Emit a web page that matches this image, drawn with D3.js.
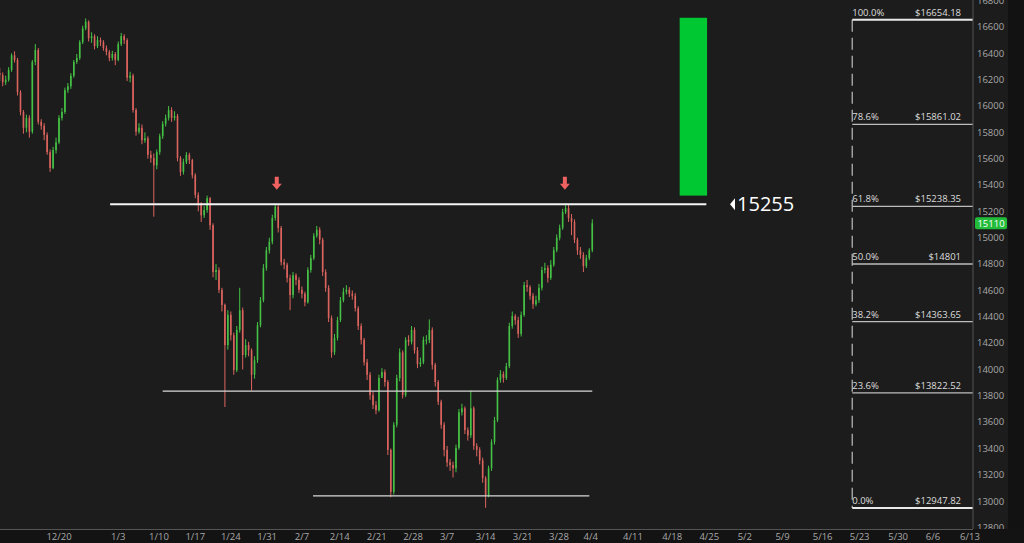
<!DOCTYPE html>
<html><head><meta charset="utf-8">
<script src="https://cdn.jsdelivr.net/npm/d3@7/dist/d3.min.js"></script>
<style>html,body{margin:0;padding:0;background:#1c1c1c;overflow:hidden}svg{display:block}</style>
</head><body><svg id="c" width="1024" height="543"></svg>
<script>
// ---- data ----
const barStartDay = -8, barStep = 0.4, firstOpen = 16250;
const closes = [16235,16180,16200,16275,16385,16350,16105,15955,15835,15910,
15805,16335,16425,15880,15850,15780,15650,15530,15665,15725,
15910,15955,16120,16150,16230,16335,16365,16485,16590,16640,
16515,16530,16455,16500,16485,16440,16410,16365,16395,16350,
16470,16530,16500,16215,16230,15970,15805,15835,15740,15755,
15630,15605,15550,15650,15770,15865,15910,15970,15910,15925,
15605,15500,15575,15630,15590,15475,15325,15250,15170,15210,
15300,15095,14740,14755,14605,14490,14185,14415,14260,13995,
14300,14450,14110,14185,14145,13960,14070,14335,14525,14770,
14905,14970,15150,15235,15075,14815,14795,14695,14565,14715,
14680,14605,14575,14510,14755,14845,15015,15060,14985,14740,
14620,14390,14130,14240,14375,14525,14590,14605,14575,14560,
14465,14330,14225,14055,13960,13805,13730,13690,13935,13980,
13905,13390,13070,13580,13935,14130,13805,14225,14210,14300,
14145,14040,14055,14225,14225,14300,14035,13905,13755,13580,
13390,13295,13275,13250,13405,13675,13705,13540,13500,13705,
13420,13390,13310,13175,13045,13250,13450,13615,13920,13965,
13935,14025,14330,14405,14375,14270,14415,14640,14625,14560,
14495,14525,14620,14755,14770,14695,14795,14905,15000,15075,
15195,15225,15150,15120,14985,14905,14870,14785,14845,14905,
15110];
const highs = [16290,16255,16230,16295,16400,16415,16365,16120,15970,15935,
15930,16350,16470,16440,15900,15870,15800,15670,15690,15760,
15930,15985,16140,16175,16250,16350,16395,16500,16610,16665,
16650,16560,16545,16530,16520,16500,16460,16425,16420,16410,
16490,16555,16545,16515,16260,16245,15985,15870,15860,15800,
15770,15660,15640,15670,15790,15885,15935,16000,15990,15960,
15940,15620,15600,15650,15645,15600,15490,15345,15270,15240,
15320,15310,15110,14800,14775,14620,14500,14450,14440,14280,
14330,14620,14470,14230,14210,14160,14100,14360,14550,14800,
14930,15000,15175,15260,15250,15090,14840,14810,14720,14740,
14730,14700,14630,14590,14775,14870,15035,15090,15080,15000,
14760,14640,14410,14270,14400,14550,14620,14640,14625,14600,
14580,14480,14350,14240,14080,13980,13830,13760,13960,14010,
14000,13920,13400,13600,13960,14160,14145,14245,14260,14330,
14320,14170,14090,14250,14260,14380,14320,14050,13920,13770,
13600,13420,13320,13300,13430,13700,13740,13720,13560,13840,
13720,13440,13410,13330,13190,13270,13470,13640,13940,13995,
13985,14050,14355,14440,14420,14400,14440,14665,14680,14640,
14580,14560,14650,14780,14810,14790,14830,14930,15025,15100,
15220,15260,15250,15180,15140,15000,14930,14890,14870,14920,
15140];
const lows = [16190,16150,16160,16185,16260,16330,16080,15930,15790,15800,
15760,15790,16310,15860,15820,15740,15630,15500,15520,15640,
15710,15890,15940,16100,16130,16215,16320,16350,16470,16575,
16490,16480,16430,16440,16455,16420,16385,16340,16345,16310,
16340,16455,16470,16190,16180,15950,15775,15790,15710,15720,
15600,15570,15160,15520,15630,15750,15845,15890,15880,15890,
15580,15470,15480,15560,15560,15450,15300,15200,15120,15150,
15190,15060,14700,14680,14580,14440,13715,14150,14220,13960,
13980,14280,14000,14090,14100,13840,13930,14050,14320,14510,
14750,14880,14950,15130,15040,14790,14760,14660,14450,14540,
14640,14580,14540,14480,14500,14735,14830,15000,14950,14710,
14590,14360,14090,14110,14220,14360,14510,14570,14550,14530,
14440,14300,14190,14030,13920,13770,13700,13660,13680,13950,
13870,13350,13030,13050,13560,13910,13780,13790,14180,14190,
14120,14010,14020,14040,14190,14200,14000,13870,13730,13550,
13340,13260,13230,13180,13220,13390,13650,13510,13460,13480,
13390,13340,13280,13140,12950,13030,13230,13430,13600,13900,
13900,13920,14010,14310,14340,14240,14250,14400,14590,14530,
14460,14480,14505,14600,14730,14660,14680,14780,14890,14980,
15060,15180,15120,15020,14960,14870,14840,14740,14770,14830,
14890];

const yTicks = [12800,13000,13200,13400,13600,13800,14000,14200,14400,14600,14800,15000,15200,15400,15600,15800,16000,16200,16400,16600,16800];
const xTickLabels = ["12/20","1/3","1/10","1/17","1/24","1/31","2/7","2/14","2/21","2/28","3/7","3/14","3/21","3/28","4/4","4/11","4/18","4/25","5/2","5/9","5/16","5/23","5/30","6/6","6/13"];
const xTickDays = [0,8,13.5,18.4,23.2,28.1,32.8,37.9,42.9,47.8,52.4,57.6,62.6,67.5,71.8,77.5,82.8,87.8,92.6,97.7,103.1,108.1,113.3,118,123];

const fibPcts = ["100.0%","78.6%","61.8%","50.0%","38.2%","23.6%","0.0%"];
const fibPrices = [16654.18,15861.02,15238.35,14801,14363.65,13822.52,12947.82];
const fibTexts = ["$16654.18","$15861.02","$15238.35","$14801","$14363.65","$13822.52","$12947.82"];
const fibStartDay = 107.1;

const resistance = {price:15255, fromDay:6.9, toDay:87.4, labelDay:90.6, label:"15255"};
const supports = [{price:13836, fromDay:14.0, toDay:72.0},{price:13040, fromDay:34.3, toDay:71.6}];
const targetBox = {fromDay:83.8, toDay:87.5, low:15320, high:16670};
const arrows = [{day:29.4, price:15365},{day:68.3, price:15365}];
const lastPrice = 15110;

// ---- layout ----
const W = 1024, H = 543, plotRight = 973, plotBottom = 529, axisStrip = 1008;
const svg = d3.select("#c");
const x = d3.scaleLinear().domain([0,123]).range([59,970]);
const y = d3.scaleLinear().domain([13000,16600]).range([501.2,27]);
const font = "'Open Sans', 'Noto Sans', sans-serif";

svg.append("rect").attr("width",W).attr("height",H).attr("fill","#1c1c1c");

const defs = svg.append("defs");
defs.append("clipPath").attr("id","plotclip").append("rect").attr("x",0).attr("y",0).attr("width",plotRight).attr("height",plotBottom);

// candles
const bars = closes.map((c,i)=>({day:barStartDay+i*barStep, o: i===0?firstOpen:closes[i-1], c, h:highs[i], l:lows[i]}));
const up = "#45c245", dn = "#dc645e";
const g = svg.append("g").attr("clip-path","url(#plotclip)");
g.selectAll("line.w").data(bars).join("line")
  .attr("x1",d=>x(d.day)).attr("x2",d=>x(d.day))
  .attr("y1",d=>y(d.h)).attr("y2",d=>y(d.l))
  .attr("stroke",d=>d.c>=d.o?up:dn).attr("stroke-width",1);
g.selectAll("rect.b").data(bars).join("rect")
  .attr("x",d=>x(d.day)-0.8).attr("width",1.6)
  .attr("y",d=>y(Math.max(d.o,d.c))).attr("height",d=>Math.max(1,Math.abs(y(d.o)-y(d.c))))
  .attr("fill",d=>d.c>=d.o?up:dn);

// target box
svg.append("rect").attr("x",x(targetBox.fromDay)).attr("width",x(targetBox.toDay)-x(targetBox.fromDay))
  .attr("y",y(targetBox.high)).attr("height",y(targetBox.low)-y(targetBox.high)).attr("fill","#00c832");

// resistance line
svg.append("line").attr("x1",x(resistance.fromDay)).attr("x2",x(resistance.toDay))
  .attr("y1",y(resistance.price)).attr("y2",y(resistance.price)).attr("stroke","#f4f4f4").attr("stroke-width",2);
const ly = y(resistance.price);
const lx = x(resistance.labelDay);
svg.append("path").attr("d",`M${lx},${ly} L${lx+5},${ly-6} L${lx+5},${ly+6} Z`).attr("fill","#ffffff");
svg.append("text").attr("x",lx+7).attr("y",ly).attr("dy","0.36em").attr("fill","#ffffff")
  .attr("font-family",font).attr("font-size",20).text(resistance.label);

// support lines
svg.selectAll("line.s").data(supports).join("line")
  .attr("x1",d=>x(d.fromDay)).attr("x2",d=>x(d.toDay)).attr("y1",d=>y(d.price)).attr("y2",d=>y(d.price))
  .attr("stroke","#d8d8d8").attr("stroke-width",1.2);

// arrows
arrows.forEach(a=>{
  const ax = x(a.day), ay = y(a.price);
  svg.append("path").attr("d",`M${ax},${ay} L${ax-5},${ay-6} L${ax-2},${ay-6} L${ax-2},${ay-13} L${ax+2},${ay-13} L${ax+2},${ay-6} L${ax+5},${ay-6} Z`)
    .attr("fill","#f06262");
});

// fib
const fx0 = x(fibStartDay);
svg.append("line").attr("x1",fx0).attr("x2",fx0).attr("y1",y(fibPrices[0])).attr("y2",y(fibPrices[6]))
  .attr("stroke","#b0b0b0").attr("stroke-width",1.3).attr("stroke-dasharray","12,6");
fibPrices.forEach((p,i)=>{
  const yy = y(p);
  const strong = (i===0||i===6);
  svg.append("line").attr("x1",fx0).attr("x2",plotRight).attr("y1",yy).attr("y2",yy)
    .attr("stroke",strong?"#e8e8e8":"#bdbdbd").attr("stroke-width",strong?2:1.4);
  svg.append("text").attr("x",fx0).attr("y",yy-4).attr("fill","#dcdcdc").attr("font-family",font).attr("font-size",9.5).text(fibPcts[i]);
  svg.append("text").attr("x",961).attr("y",yy-4).attr("text-anchor","end").attr("fill","#dcdcdc").attr("font-family",font).attr("font-size",9.5).text(fibTexts[i]);
});

// y axis labels
const ya = svg.append("g");
ya.selectAll("text").data(yTicks).join("text")
  .attr("x",977).attr("y",d=>y(d)).attr("dy","0.35em").attr("fill","#a8a8a8")
  .attr("font-family",font).attr("font-size",9.5).text(d=>d);
svg.append("line").attr("x1",plotRight).attr("x2",plotRight).attr("y1",0).attr("y2",plotBottom).attr("stroke","#555").attr("stroke-width",1);

// right dark strip
svg.append("rect").attr("x",axisStrip).attr("y",0).attr("width",W-axisStrip).attr("height",H).attr("fill","#121212");

// last price tag
const lpY = y(lastPrice);
svg.append("rect").attr("x",975).attr("y",lpY-6).attr("width",32).attr("height",12).attr("rx",2).attr("fill","#22bb3a");
svg.append("text").attr("x",991).attr("y",lpY).attr("dy","0.35em").attr("text-anchor","middle").attr("fill","#ffffff")
  .attr("font-family",font).attr("font-size",9.5).text(lastPrice);

// bottom strip + x axis
svg.append("rect").attr("x",0).attr("y",plotBottom).attr("width",W).attr("height",H-plotBottom).attr("fill","#131313");
svg.append("line").attr("x1",0).attr("x2",plotRight).attr("y1",plotBottom+0.5).attr("y2",plotBottom+0.5).attr("stroke","#555");
const xa = svg.append("g");
xa.selectAll("text").data(xTickDays).join("text")
  .attr("x",d=>x(d)).attr("y",536.5).attr("dy","0.35em").attr("text-anchor","middle").attr("fill","#a8a8a8")
  .attr("font-family",font).attr("font-size",9.5).text((d,i)=>xTickLabels[i]);
</script></body></html>
